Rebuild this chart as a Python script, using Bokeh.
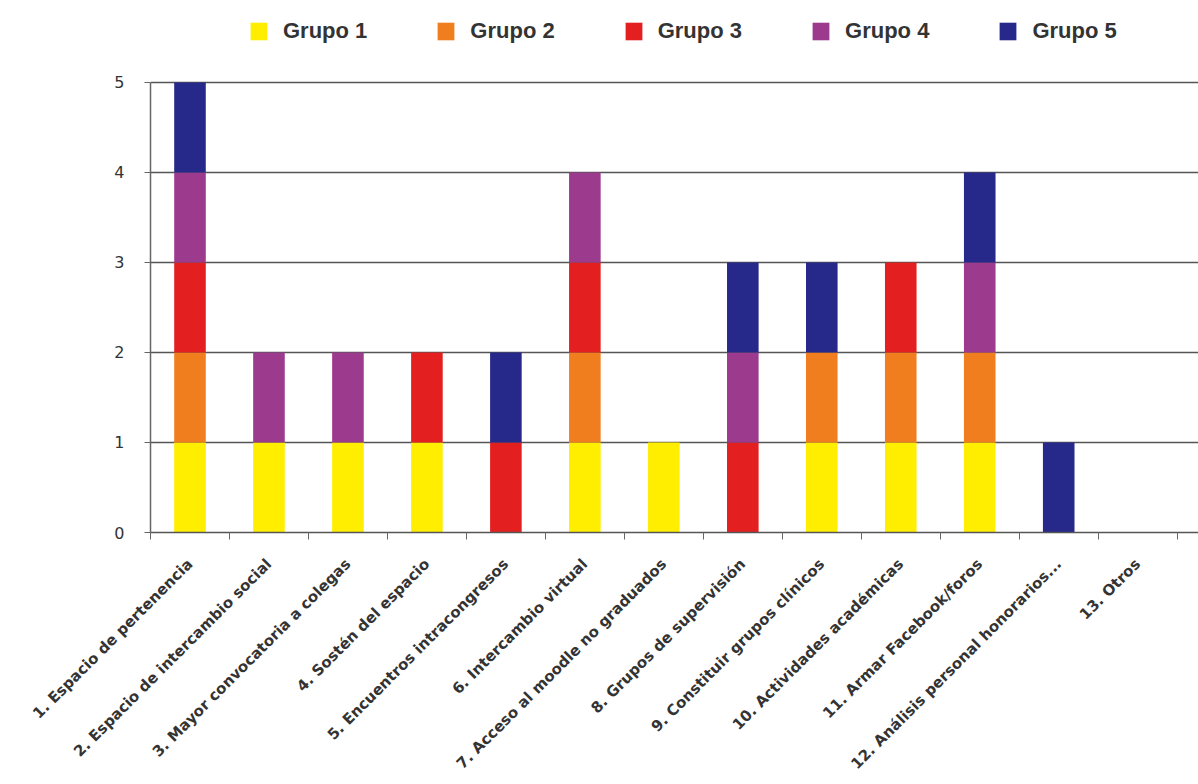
import numpy as np
from bokeh.plotting import figure
from bokeh.models import ColumnDataSource, FixedTicker, Legend, LegendItem
from bokeh.embed import file_html
from bokeh.resources import INLINE

categorias = [
    "1. Espacio de pertenencia",
    "2. Espacio de intercambio social",
    "3. Mayor convocatoria a colegas",
    "4. Sostén del espacio",
    "5. Encuentros intracongresos",
    "6. Intercambio virtual",
    "7. Acceso al moodle no graduados",
    "8. Grupos de supervisión",
    "9. Constituir grupos clínicos",
    "10. Actividades académicas",
    "11. Armar Facebook/foros",
    "12. Análisis personal honorarios...",
    "13. Otros",
]
grupo1 = [1, 1, 1, 1, 0, 1, 1, 0, 1, 1, 1, 0, 0]
grupo2 = [1, 0, 0, 0, 0, 1, 0, 0, 1, 1, 1, 0, 0]
grupo3 = [1, 0, 0, 1, 1, 1, 0, 1, 0, 1, 0, 0, 0]
grupo4 = [1, 1, 1, 0, 0, 1, 0, 1, 0, 0, 1, 0, 0]
grupo5 = [1, 0, 0, 0, 1, 0, 0, 1, 1, 0, 1, 1, 0]
series_names = ["Grupo 1", "Grupo 2", "Grupo 3", "Grupo 4", "Grupo 5"]
colores = ["#FFEE00", "#F07E1E", "#E3201F", "#9C3A8E", "#27298A"]
y_ticks = [0, 1, 2, 3, 4, 5]

xpos = [i + 1 for i in range(len(categorias))]
source = ColumnDataSource(dict(x=xpos, **{
    "Grupo 1": grupo1, "Grupo 2": grupo2, "Grupo 3": grupo3,
    "Grupo 4": grupo4, "Grupo 5": grupo5}))

# frame spans the full top so the legend can sit above the y=5 gridline
p = figure(width=1198, height=784, x_range=(0.5, len(categorias) + 0.77),
           y_range=(0, 5.911), output_backend="svg", toolbar_location=None,
           min_border_left=150, min_border_right=0, min_border_top=0,
           min_border_bottom=252)
p.outline_line_color = None
p.background_fill_color = "white"

rs = p.vbar_stack(series_names, x="x", width=0.4, color=colores,
                  line_color=None, source=source)

# grid
p.xgrid.grid_line_color = None
p.ygrid.grid_line_color = "#555555"
p.ygrid.grid_line_width = 1.5
p.ygrid.ticker = FixedTicker(ticks=y_ticks)

# y axis
p.yaxis.ticker = FixedTicker(ticks=y_ticks)
p.yaxis.bounds = (0, 5)
p.yaxis.axis_line_color = "#666666"
p.yaxis.axis_line_width = 1.5
p.yaxis.major_tick_line_color = "#666666"
p.yaxis.major_tick_out = 6
p.yaxis.major_tick_in = 0
p.yaxis.minor_tick_line_color = None
p.yaxis.major_label_text_font = "DejaVu Sans"
p.yaxis.major_label_text_font_size = "16px"
p.yaxis.major_label_text_color = "#333333"
p.yaxis.major_label_standoff = 20

# x axis
bounds = [v - 0.5 for v in xpos] + [xpos[-1] + 0.5]
p.xaxis.ticker = FixedTicker(ticks=xpos, minor_ticks=bounds)
p.xaxis.major_label_overrides = {x: c for x, c in zip(xpos, categorias)}
p.xaxis.major_label_orientation = np.pi / 4
p.xaxis.axis_line_color = "#555555"
p.xaxis.axis_line_width = 1.5
p.xaxis.major_tick_out = 0
p.xaxis.major_tick_in = 0
p.xaxis.minor_tick_out = 7
p.xaxis.minor_tick_in = 0
p.xaxis.minor_tick_line_color = "#666666"
p.xaxis.major_label_text_font = "DejaVu Sans"
p.xaxis.major_label_text_font_style = "bold"
p.xaxis.major_label_text_font_size = "15px"
p.xaxis.major_label_text_color = "#333333"
p.xaxis.major_label_standoff = 22

items = [LegendItem(label=n, renderers=[r]) for n, r in zip(series_names, rs)]
legend = Legend(items=items, orientation="horizontal", location=(98, 488),
                label_text_font="Liberation Sans", label_text_font_style="bold",
                label_text_font_size="22px", label_text_color="#333333",
                glyph_width=21, glyph_height=22, label_standoff=14,
                spacing=68, border_line_color=None, background_fill_alpha=0,
                margin=0, padding=10, label_height=22)
p.add_layout(legend, "center")

open("out.html", "w").write(file_html(p, INLINE))
